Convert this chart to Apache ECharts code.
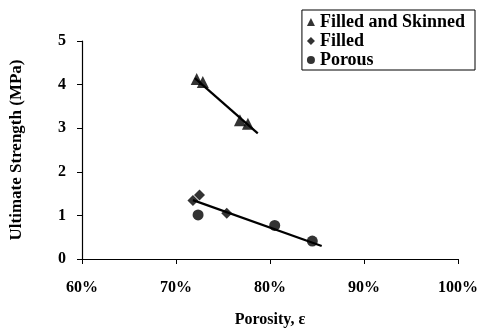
<!DOCTYPE html>
<html>
<head>
<meta charset="utf-8">
<script src="https://cdn.jsdelivr.net/npm/echarts@6/dist/echarts.min.js"></script>
<style>
html,body{margin:0;padding:0;background:#fff;}
#chart{width:481px;height:333px;}
</style>
</head>
<body>
<div id="chart"></div>
<script>
// porosity in %, strength in MPa
var skinnedX = [72.2, 72.85, 76.8, 77.65];
var skinnedY = [4.13, 4.06, 3.18, 3.10];
var filledX = [71.8, 72.5, 75.4];
var filledY = [1.34, 1.47, 1.05];
var porousX = [72.35, 80.5, 84.5];
var porousY = [1.01, 0.77, 0.41];
// trend line end points
var trendTopX = [72.0, 78.7];
var trendTopY = [4.15, 2.88];
var trendLowX = [71.8, 85.5];
var trendLowY = [1.35, 0.30];

function pairs(xs, ys){
    var out = [];
    for (var i = 0; i < xs.length; i++) {
        out.push([xs[i], ys[i]]);
    }
    return out;
}

var font = 'Liberation Serif';
var chart = echarts.init(document.getElementById('chart'));
var option = {
    animation: false,
    grid: { left: 82, right: 22, top: 41, bottom: 70 },
    textStyle: { fontFamily: font, fontWeight: 'bold', color: '#000' },
    legend: {
        orient: 'vertical',
        right: 6,
        top: 10,
        padding: [3, 10, 1, 5],
        itemGap: 1,
        itemWidth: 8,
        itemHeight: 8,
        borderColor: '#000',
        borderWidth: 1,
        textStyle: { fontFamily: font, fontWeight: 'bold', fontSize: 18, color: '#000' },
        data: ['Filled and Skinned', 'Filled', 'Porous']
    },
    xAxis: {
        type: 'value',
        min: 60, max: 100, interval: 10,
        name: 'Porosity, ε',
        nameLocation: 'middle',
        nameGap: 53,
        nameTextStyle: { fontFamily: font, fontWeight: 'bold', fontSize: 16, color: '#000' },
        axisLine: { lineStyle: { color: '#000', width: 1.2 } },
        axisTick: { lineStyle: { color: '#000' }, length: 5 },
        splitLine: { show: false },
        axisLabel: {
            margin: 21,
            fontFamily: font, fontWeight: 'bold', fontSize: 16, color: '#000',
            formatter: function (v) { return v + '%'; }
        }
    },
    yAxis: {
        type: 'value',
        min: 0, max: 5, interval: 1,
        name: 'Ultimate Strength (MPa)',
        nameLocation: 'middle',
        nameGap: 57,
        nameTextStyle: { fontFamily: font, fontWeight: 'bold', fontSize: 17, color: '#000' },
        axisLine: { show: true, lineStyle: { color: '#000', width: 1.2 } },
        axisTick: { show: true, lineStyle: { color: '#000' }, length: 5 },
        splitLine: { show: false },
        axisLabel: { margin: 16, fontFamily: font, fontWeight: 'bold', fontSize: 16, color: '#000' }
    },
    series: [
        {
            name: 'Filled and Skinned', type: 'scatter', symbol: 'triangle', symbolSize: 12,
            itemStyle: { color: '#000' }, data: pairs(skinnedX, skinnedY), z: 3
        },
        {
            name: 'Filled', type: 'scatter', symbol: 'diamond', symbolSize: 11,
            itemStyle: { color: '#000' }, data: pairs(filledX, filledY), z: 3
        },
        {
            name: 'Porous', type: 'scatter', symbol: 'circle', symbolSize: 11,
            itemStyle: { color: '#000' }, data: pairs(porousX, porousY), z: 3
        },
        {
            name: 'trendTop', type: 'line', showSymbol: false, symbol: 'none',
            lineStyle: { color: '#000', width: 2.2 }, data: pairs(trendTopX, trendTopY)
        },
        {
            name: 'trendLow', type: 'line', showSymbol: false, symbol: 'none',
            lineStyle: { color: '#000', width: 2.2 }, data: pairs(trendLowX, trendLowY)
        }
    ]
};
chart.setOption(option);
</script>
</body>
</html>
